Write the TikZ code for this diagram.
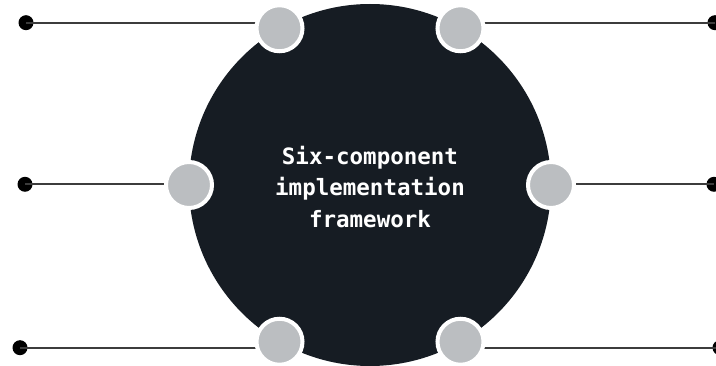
\documentclass[tikz,border=0pt]{standalone}
\usepackage{fontspec}
\usetikzlibrary{calc}
\newfontfamily\labelfont{DejaVu Sans Mono}
\definecolor{hub}{HTML}{161C23}
\definecolor{spoke}{HTML}{BBBEC1}
\definecolor{wirecol}{HTML}{3C3C3C}
\begin{document}
\begin{tikzpicture}[x=1pt,y=-1pt,
  hubdisc/.style={circle, fill=hub, minimum size=362pt, inner sep=0pt},
  port/.style={circle, fill=spoke, draw=white, line width=4pt, minimum size=46pt, inner sep=0pt},
  endpoint/.style={circle, fill=black, minimum size=15pt, inner sep=0pt},
  wire/.style={draw=wirecol, line width=2pt},
  hubtext/.style={text=white, align=center, font=\labelfont\bfseries\fontsize{22.5}{31.7}\selectfont}]
\useasboundingbox (0,0) rectangle (716,366);

% central disc
\node[hubdisc] (hub) at (370,185) {};

% end points of the six spokes
\node[endpoint] (e1) at (26,22.7) {};
\node[endpoint] (e2) at (715,22.7) {};
\node[endpoint] (e3) at (25,184.3) {};
\node[endpoint] (e4) at (714,184.3) {};
\node[endpoint] (e5) at (20,347.7) {};
\node[endpoint] (e6) at (720,347.7) {};

% ports on the rim of the disc (y axis points down)
\coordinate (p1) at ($(hub.center)+(240:181)$);
\coordinate (p2) at ($(hub.center)+(300:181)$);
\coordinate (p3) at ($(hub.center)+(180:181)$);
\coordinate (p4) at ($(hub.center)+(0:181)$);
\coordinate (p5) at ($(hub.center)+(120:181)$);
\coordinate (p6) at ($(hub.center)+(60:181)$);

% horizontal wires, drawn under the ports
\foreach \i in {1,...,6} {
  \draw[wire] (e\i.center) -- (e\i.center -| p\i);
}

\foreach \i in {1,...,6} {
  \node[port] (c\i) at (p\i) {};
}

\node[hubtext] (title) at (370,187) {Six-component\\implementation\\framework};
\end{tikzpicture}
\end{document}
